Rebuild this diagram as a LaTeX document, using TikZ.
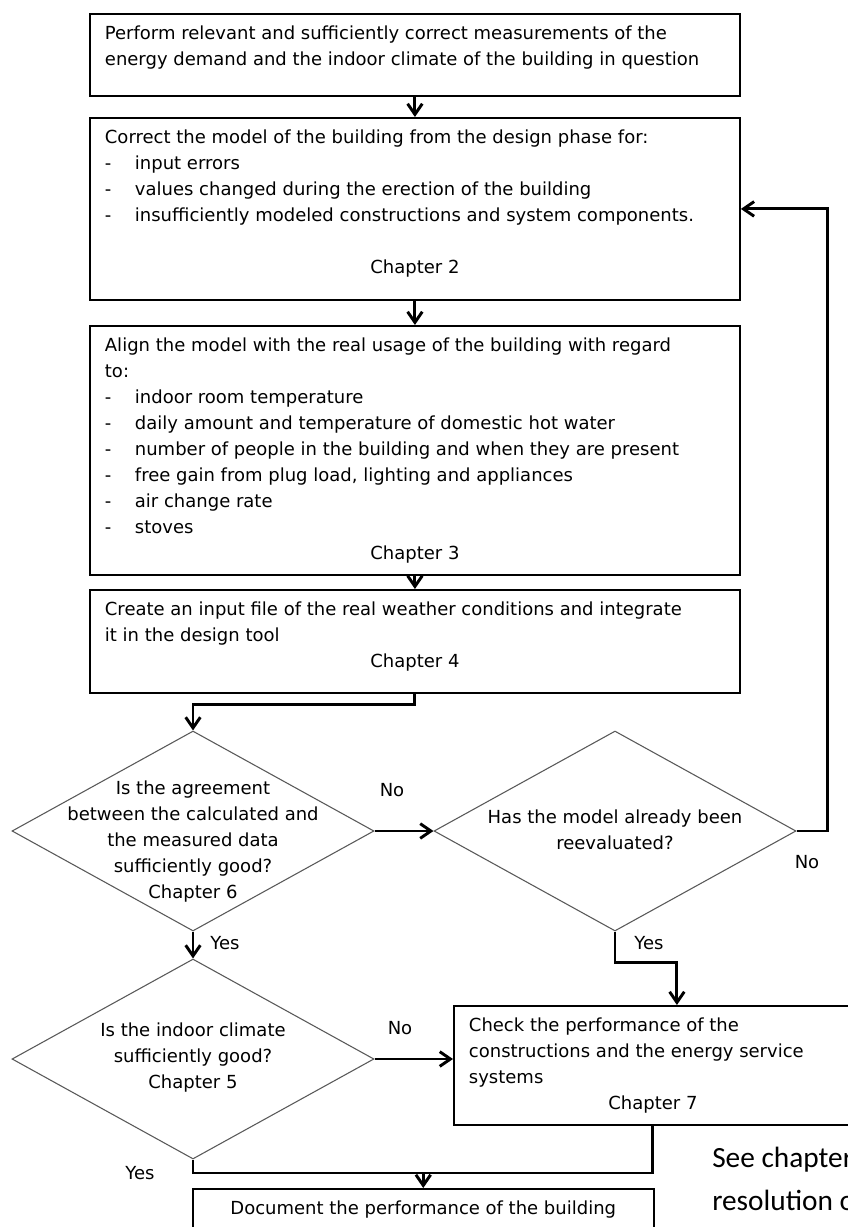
\documentclass[tikz,border=0pt]{standalone}
\usepackage{fontspec}
\setmainfont{DejaVu Sans}
\newfontfamily\notefont{Carlito}
\usetikzlibrary{shapes.geometric,arrows.meta}

\newcommand{\itm}[1]{\makebox[22.5pt][l]{-}#1}
\newcommand{\chap}[2][0pt]{\par\vspace{#1}{\centering #2\par}}
\newcommand{\boxbody}[3]{\parbox[c][#1][t]{#2}{\raggedright\rule{0pt}{19pt}#3}}
\newcommand{\dtext}[2][-3.5pt]{\makebox[0pt]{\smash{\raisebox{#1}{\begin{tabular}{@{}c@{}}#2\end{tabular}}}}}

\begin{document}
\begin{tikzpicture}[x=0.75pt, y=-0.75pt, font=\fontsize{13.5}{19.5}\selectfont,
    box/.style = {draw, line width=1.4pt, anchor=north west, inner xsep=11.25pt, inner ysep=0pt},
    decision/.style = {draw=black!65, diamond, line width=0.8pt, minimum width=271.5pt, minimum height=150pt, inner sep=0pt},
    flow/.style = {line width=2.2pt, -{Straight Barb[length=8pt, width=11pt]}},
    link/.style = {line width=2.2pt},
    tag/.style = {inner sep=0pt}]
        \fill[white] (0,0) rectangle (848,1227);
        \useasboundingbox (0,0) rectangle (848,1227);
        \clip (0,0) rectangle (848,1227);

        \node[box] (b1) at (89,13) {\boxbody{61.5pt}{465pt}{Perform relevant and sufficiently correct measurements of the\\energy demand and the indoor climate of the building in question}};
        \node[box] (b2) at (89,117) {\boxbody{136.5pt}{465pt}{Correct the model of the building from the design phase for:\\
            \itm{input errors}\\
            \itm{values changed during the erection of the building}\\
            \itm{insufficiently modeled constructions and system components.}
            \chap[19.5pt]{Chapter 2}}};
        \node[box] (b3) at (89,325) {\boxbody{186.75pt}{465pt}{Align the model with the real usage of the building with regard\\to:\\
            \itm{indoor room temperature}\\
            \itm{daily amount and temperature of domestic hot water}\\
            \itm{number of people in the building and when they are present}\\
            \itm{free gain from plug load, lighting and appliances}\\
            \itm{air change rate}\\
            \itm{stoves}
            \chap{Chapter 3}}};
        \node[box] (b4) at (89,589) {\boxbody{77.25pt}{465pt}{Create an input file of the real weather conditions and integrate\\it in the design tool
            \chap{Chapter 4}}};

        \node[decision] (d1) at (193,831) {\dtext[-11pt]{Is the agreement\\between the calculated and\\the measured data\\sufficiently good?\\Chapter 6}};
        \node[decision] (d2) at (615,831) {\dtext{Has the model already been\\reevaluated?}};
        \node[decision] (d3) at (193,1059) {\dtext[-2.5pt]{Is the indoor climate\\sufficiently good?\\Chapter 5}};

        \node[box] (b5) at (453,1005) {\boxbody{89.25pt}{276pt}{Check the performance of the\\constructions and the energy service\\systems
            \chap{Chapter 7}}};
        \node[box] (b6) at (192,1188) {\boxbody{45pt}{323pt}{\centering Document the performance of the building}};

        \node[tag] (no1) at (392,790) {No};
        \node[tag] (no2) at (807,862) {No};
        \node[tag] (no3) at (400,1028) {No};
        \node[tag] (yes1) at (225,943) {Yes};
        \node[tag] (yes2) at (649,943) {Yes};
        \node[tag] (yes3) at (140,1173) {Yes};

        \node[tag, anchor=west, align=left, font=\notefont\fontsize{22}{32}\selectfont] (note) at (712,1179) {See chapter\\resolution o};

        \coordinate (join) at ([yshift=11.25pt]b6.north);

        \draw[flow] (b1) -- (b2);
        \draw[flow] (b2) -- (b3);
        \draw[flow] (b3) -- (b4);
        \draw[flow] (b4.south) -- ++(0,11) -| (d1.north);
        \draw[flow] (d1.east) -- (d2.west);
        \draw[flow] (d2.east) -- ++(31,0) |- (b2.east);
        \draw[flow] (d2.south) -- ++(0,31) -| ([xshift=18pt]b5.north);
        \draw[flow] (d1) -- (d3);
        \draw[flow] (d3.east) -- (d3.east -| b5.west);
        \draw[link] (b5.south) |- (join) -| (d3.south);
        \draw[flow] (join) -- (b6.north);

    \end{tikzpicture}
\end{document}
